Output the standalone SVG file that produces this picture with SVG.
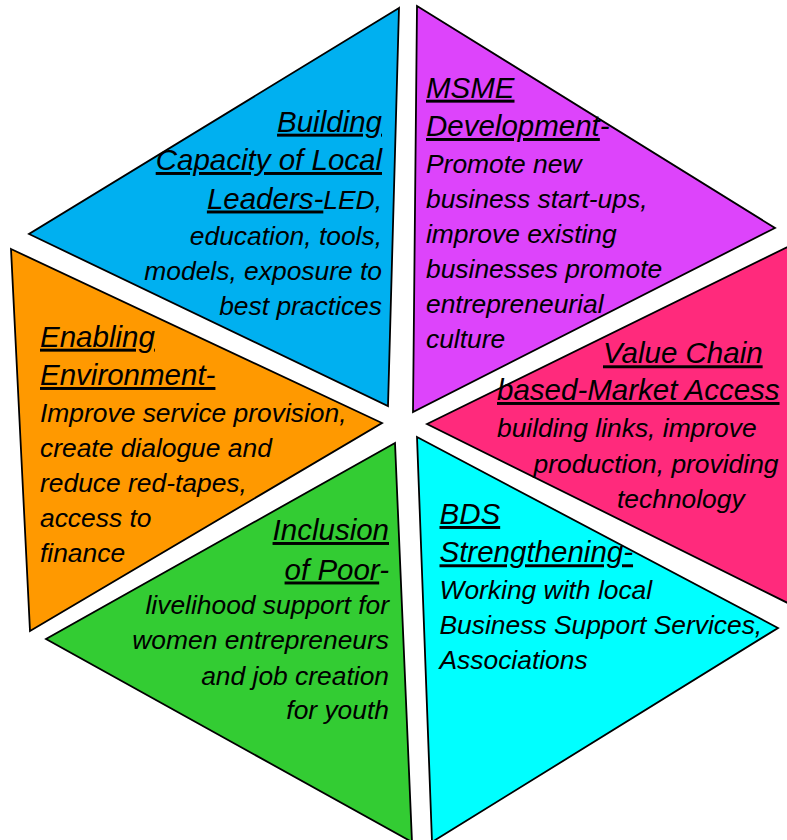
<svg xmlns="http://www.w3.org/2000/svg" width="787" height="840" viewBox="0 0 787 840">
  <style>
    .wedge { stroke: #000; stroke-width: 1.8; stroke-linejoin: miter; }
    text { font-family: "Liberation Sans", Arial, sans-serif; font-style: italic; fill: #000; }
    .head { font-size: 29.5px; }
    .body { font-size: 26.4px; }
    .u { text-decoration: underline; text-decoration-thickness: 2.6px; text-underline-offset: 3px; }
    .r { text-anchor: end; }
  </style>
  <rect width="787" height="840" fill="#fff"/>

  <!-- Building capacity of local leaders -->
  <g id="leaders">
    <polygon class="wedge" fill="#00B0F0" points="399,8 29,234 388,406"/>
    <text class="head r" x="382" y="131.7"><tspan class="u">Building</tspan></text>
    <text class="head r" x="382" y="170"><tspan class="u">Capacity of Local</tspan></text>
    <text class="head r" x="382" y="208.5"><tspan class="u">Leaders-</tspan><tspan class="body">LED,</tspan></text>
    <text class="body r" x="382" y="245">education, tools,</text>
    <text class="body r" x="382" y="280">models, exposure to</text>
    <text class="body r" x="382" y="314.5">best practices</text>
  </g>

  <!-- MSME development -->
  <g id="msme">
    <polygon class="wedge" fill="#DD44FB" points="417,6 775,228 413,412"/>
    <text class="head" x="426" y="97.7"><tspan class="u">MSME</tspan></text>
    <text class="head" x="426" y="136"><tspan class="u">Development</tspan>-</text>
    <text class="body" x="426" y="172.5">Promote new</text>
    <text class="body" x="426" y="207.5">business start-ups,</text>
    <text class="body" x="426" y="242.5">improve existing</text>
    <text class="body" x="426" y="277.5">businesses promote</text>
    <text class="body" x="426" y="312.5">entrepreneurial</text>
    <text class="body" x="426" y="347.5">culture</text>
  </g>

  <!-- Value chain based market access -->
  <g id="value-chain">
    <polygon class="wedge" fill="#FF2A7C" points="427,424 820,231 820,619"/>
    <text class="head" x="603" y="363.3"><tspan class="u">Value Chain</tspan></text>
    <text class="head" x="497" y="400"><tspan class="u">based-Market Access</tspan></text>
    <text class="body" x="497" y="437.3">building links, improve</text>
    <text class="body" x="533.5" y="472.5">production, providing</text>
    <text class="body" x="617" y="507.5">technology</text>
  </g>

  <!-- Enabling environment -->
  <g id="environment">
    <polygon class="wedge" fill="#FF9900" points="11,249 382,423 30,631"/>
    <text class="head" x="40" y="346.7"><tspan class="u">Enabling</tspan></text>
    <text class="head" x="40" y="385"><tspan class="u">Environment-</tspan></text>
    <text class="body" x="40" y="421.5">Improve service provision,</text>
    <text class="body" x="40" y="456.5">create dialogue and</text>
    <text class="body" x="40" y="491.5">reduce red-tapes,</text>
    <text class="body" x="40" y="526.5">access to</text>
    <text class="body" x="40" y="562">finance</text>
  </g>

  <!-- Inclusion of poor -->
  <g id="inclusion">
    <polygon class="wedge" fill="#33CC33" points="395,443 46,639 412,842"/>
    <text class="head r" x="389" y="540"><tspan class="u">Inclusion</tspan></text>
    <text class="head r" x="389" y="579.5"><tspan class="u">of Poor</tspan>-</text>
    <text class="body r" x="389" y="614">livelihood support for</text>
    <text class="body r" x="389" y="649.3">women entrepreneurs</text>
    <text class="body r" x="389" y="684.5">and job creation</text>
    <text class="body r" x="389" y="719.3">for youth</text>
  </g>

  <!-- BDS strengthening -->
  <g id="bds">
    <polygon class="wedge" fill="#00FFFF" points="417,437 778,628 432,842"/>
    <text class="head" x="439.5" y="524"><tspan class="u">BDS</tspan></text>
    <text class="head" x="439.5" y="562.3"><tspan class="u">Strengthening-</tspan></text>
    <text class="body" x="439.5" y="599.3">Working with local</text>
    <text class="body" x="439.5" y="634.3">Business Support Services,</text>
    <text class="body" x="439.5" y="669.3">Associations</text>
  </g>

  <!-- no connectors between the wedges -->
  <g id="connectors"/>
</svg>
